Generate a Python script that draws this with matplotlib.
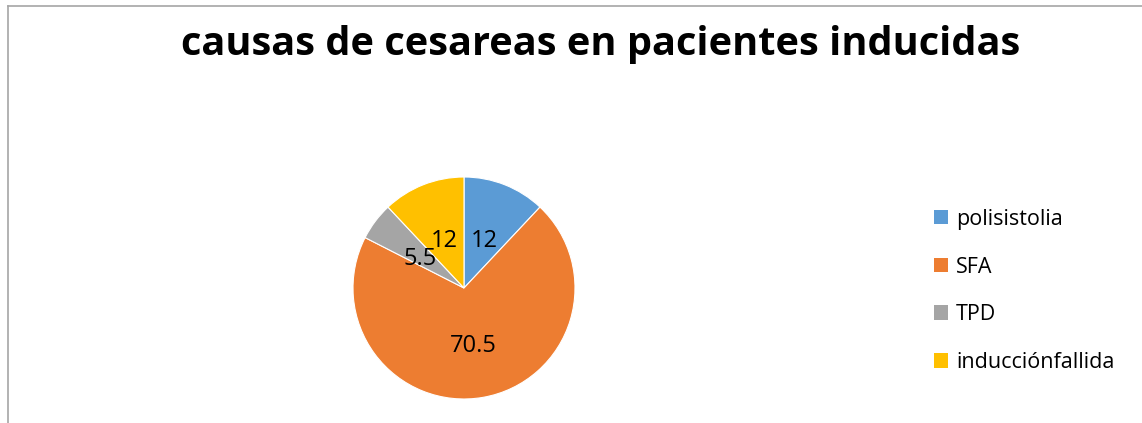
import matplotlib.pyplot as plt
from matplotlib.patches import Patch
from matplotlib.lines import Line2D

# data
causas = ['polisistolia', 'SFA', 'TPD', 'inducciónfallida']
valores = [12, 70.5, 5.5, 12]
colores = ['#5B9BD5', '#ED7D31', '#A5A5A5', '#FFC000']

W, H = 1142, 423
fig = plt.figure(figsize=(W / 100, H / 100), dpi=100)
plt.rcParams['font.family'] = ['Open Sans', 'DejaVu Sans']

# chart border (top and left only visible)
fig.add_artist(Line2D([8 / W, 1], [1 - 6 / H, 1 - 6 / H], color='#A6A6A6', lw=1.2,
                      transform=fig.transFigure))
fig.add_artist(Line2D([8 / W, 8 / W], [0, 1 - 6 / H], color='#A6A6A6', lw=1.2,
                      transform=fig.transFigure))

fig.text(601 / W, 1 - 45 / H, 'causas de cesareas en pacientes inducidas',
         ha='center', va='center', fontsize=28.6, fontweight='bold', color='black')

# pie axes in pixel position
cx, cy, r = 464, 288, 111
ax = fig.add_axes([(cx - r) / W, (H - cy - r) / H, 2 * r / W, 2 * r / H])
wedges, texts, autotexts = ax.pie(
    valores, colors=colores, startangle=90, counterclock=False,
    autopct=lambda p: f"{round(p, 1):g}", pctdistance=0.49,
    wedgeprops=dict(edgecolor='white', linewidth=0.8),
    textprops=dict(fontsize=17, color='black'))
# nudge labels down a little (font vertical centring)
for t in autotexts:
    x, y = t.get_position()
    t.set_position((x, y - 4 / r))
ax.set_xlim(-1, 1)
ax.set_ylim(-1, 1)

handles = [Patch(facecolor=c, edgecolor='none') for c in colores]
fig.legend(handles, causas, loc='upper left', bbox_to_anchor=(925 / W, 1 - 200 / H),
           frameon=False, fontsize=15.5, handlelength=0.68, handleheight=0.68,
           handletextpad=0.37, labelspacing=1.25, borderaxespad=0)

fig.savefig('out.png', dpi=100)
